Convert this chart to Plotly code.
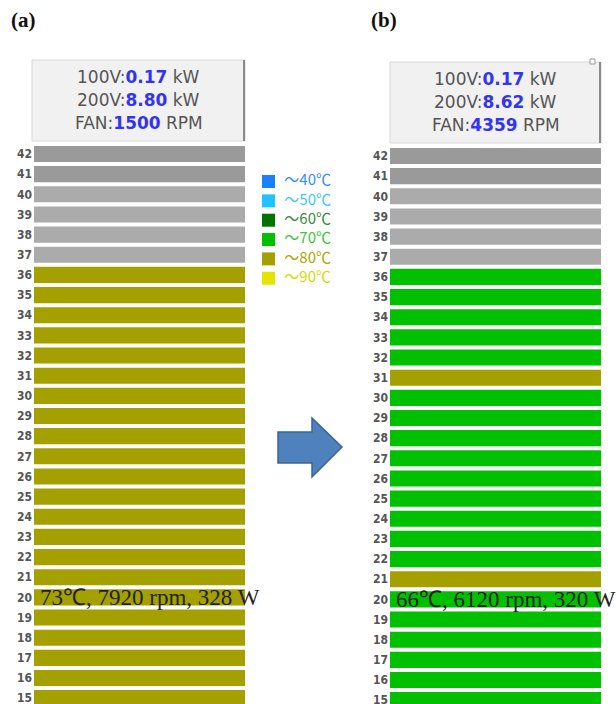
import plotly.graph_objects as go

W, H = 616, 704

# ---------------- data ----------------
units = list(range(42, 14, -1))  # rack units 42 .. 15
unit_labels = [str(u) for u in units]

# status of each rack unit (same order as units)
left_status = ["off_dark", "off_dark", "off", "off", "off", "off"] + ["~80"] * 22
right_status = (["off_dark", "off_dark", "off", "off", "off", "off"]
                + ["~70"] * 5 + ["~80"] + ["~70"] * 9 + ["~80"] + ["~70"] * 6)

legend_labels = ["～40℃", "～50℃", "～60℃", "～70℃", "～80℃", "～90℃"]
legend_keys = ["~40", "~50", "~60", "~70", "~80", "~90"]

status_colors = {
    "off_dark": "#9a9a9a",
    "off": "#ababab",
    "~40": "#1a80ff",
    "~50": "#1ec4ff",
    "~60": "#007400",
    "~70": "#00c000",
    "~80": "#a3a000",
    "~90": "#e4e400",
}
legend_text_colors = ["#3a8cff", "#3cc8ff", "#3a8a3a", "#3cc43c", "#aaa600", "#d8d800"]

left_header = [("100V:", "0.17", "kW"), ("200V:", "8.80", "kW"), ("FAN:", "1500", "RPM")]
right_header = [("100V:", "0.17", "kW"), ("200V:", "8.62", "kW"), ("FAN:", "4359", "RPM")]

left_note = "73℃, 7920 rpm, 328 W"
right_note = "66℃, 6120 rpm, 320 W"
note_unit = 20

# ---------------- helpers ----------------
def px(x):
    return x / W

def py(y):
    return 1 - y / H

fig = go.Figure()

def add_rack(status, xa, ya):
    for key in status_colors:
        ys = [u for u, s in zip(units, status) if s == key]
        if not ys:
            continue
        fig.add_trace(go.Bar(
            x=[1] * len(ys), y=ys, base=0, orientation="h", width=0.8,
            marker=dict(color=status_colors[key], line=dict(width=0)),
            xaxis=xa, yaxis=ya, showlegend=False, hoverinfo="skip",
        ))

add_rack(left_status, "x", "y")
add_rack(right_status, "x2", "y2")

# colour key (legend) drawn as a small scatter on its own axis
key_index = list(range(len(legend_keys)))
fig.add_trace(go.Scatter(
    x=[0] * len(legend_keys), y=key_index, mode="markers+text",
    marker=dict(symbol="square", size=13, color=[status_colors[k] for k in legend_keys],
                line=dict(width=0)),
    text=["\u00a0\u00a0" + t for t in legend_labels], textposition="middle right",
    textfont=dict(family="Noto Sans CJK JP", size=15, color=legend_text_colors),
    xaxis="x3", yaxis="y3", showlegend=False, hoverinfo="skip", cliponaxis=False,
))

pitch = 20.154
top_u = 42 + 154 / pitch
bot_u = 42 - (H - 154) / pitch
shift = 2 / pitch

tickfont = dict(family="Liberation Sans Narrow, DejaVu Sans Condensed, Arial", size=12,
                color="#555555", weight="bold")

key_pitch = 19.35
key_top = 181.5 - key_pitch / 2
key_bot = key_top + key_pitch * len(legend_keys)

yaxis_common = dict(tickmode="array", tickvals=units, ticktext=unit_labels,
                    ticks="", showgrid=False, zeroline=False, showline=False,
                    tickfont=tickfont, ticklabelstandoff=1, automargin=False,
                    ticklabeloverflow="allow", fixedrange=True)

fig.update_layout(
    width=W, height=H,
    margin=dict(l=0, r=0, t=0, b=0, autoexpand=False),
    paper_bgcolor="white", plot_bgcolor="rgba(0,0,0,0)",
    barmode="overlay",
    showlegend=False,
    xaxis=dict(domain=[px(34), px(245)], range=[0, 1], visible=False, fixedrange=True,
               automargin=False),
    xaxis2=dict(domain=[px(390), px(601)], range=[0, 1], visible=False, fixedrange=True,
                automargin=False),
    xaxis3=dict(domain=[px(262), px(340)], range=[-6.5, 71.5], visible=False, fixedrange=True,
                automargin=False),
    yaxis=dict(domain=[0, 1], range=[bot_u, top_u], anchor="x", **yaxis_common),
    yaxis2=dict(domain=[0, 1], range=[bot_u + shift, top_u + shift], anchor="x2", **yaxis_common),
    yaxis3=dict(domain=[py(key_bot), py(key_top)], range=[len(legend_keys) - 0.5, -0.5],
                anchor="x3", visible=False, fixedrange=True, automargin=False),
)

shapes = []
annotations = []

def header(x0, x1, y0, y1, lines, line_ys, icon=False):
    shapes.append(dict(type="rect", xref="paper", yref="paper",
                       x0=px(x0), x1=px(x1), y0=py(y1), y1=py(y0),
                       fillcolor="#f1f1f1", line=dict(color="#d8d8d8", width=1), layer="below"))
    shapes.append(dict(type="line", xref="paper", yref="paper",
                       x0=px(x1 - 1), x1=px(x1 - 1), y0=py(y1), y1=py(y0),
                       line=dict(color="#8a8a8a", width=2)))
    cx = (x0 + x1) / 2
    for (a, v, u), yy in zip(lines, line_ys):
        annotations.append(dict(
            xref="paper", yref="paper", x=px(cx), y=py(yy), xanchor="center", yanchor="middle",
            showarrow=False,
            text=f"{a}<b><span style='color:#3434f0'>{v}</span></b> {u}",
            font=dict(family="DejaVu Sans", size=17, color="#555555"),
        ))
    if icon:
        shapes.append(dict(type="rect", xref="paper", yref="paper",
                           x0=px(590), x1=px(595), y0=py(64), y1=py(59),
                           fillcolor="white", line=dict(color="#999999", width=1)))

header(32, 245, 60, 141, left_header, [77, 100, 123])
header(390, 601, 62, 143, right_header, [79, 102, 125], icon=True)

# arrow
pts = [(278, 432), (312, 432), (312, 418), (342, 447), (312, 477), (312, 463), (278, 463)]
path = "M " + " L ".join(f"{px(x):.5f},{py(y):.5f}" for x, y in pts) + " Z"
shapes.append(dict(type="path", xref="paper", yref="paper", path=path,
                   fillcolor="#4f81bd", line=dict(color="#3a6496", width=1.5)))

# notes on unit 20
note_font = dict(family="Liberation Serif, Times New Roman", size=23, color="#222222")
annotations.append(dict(xref="x domain", yref="y", x=0.02, y=note_unit, xanchor="left",
                        yanchor="middle", showarrow=False, text=left_note, font=note_font))
annotations.append(dict(xref="x2 domain", yref="y2", x=0.02, y=note_unit, xanchor="left",
                        yanchor="middle", showarrow=False, text=right_note, font=note_font))

# panel labels
label_font = dict(family="Liberation Serif, Times New Roman", size=21, color="#111111")
annotations.append(dict(xref="paper", yref="paper", x=px(9), y=py(20), xanchor="left", yanchor="middle",
                        showarrow=False, text="<b>(a)</b>", font=label_font))
annotations.append(dict(xref="paper", yref="paper", x=px(369), y=py(20), xanchor="left", yanchor="middle",
                        showarrow=False, text="<b>(b)</b>", font=label_font))

fig.update_layout(shapes=shapes, annotations=annotations)

fig.write_html("out.html", config={"displayModeBar": False},
               post_script="document.body.style.margin='0';document.body.style.overflow='hidden';")
